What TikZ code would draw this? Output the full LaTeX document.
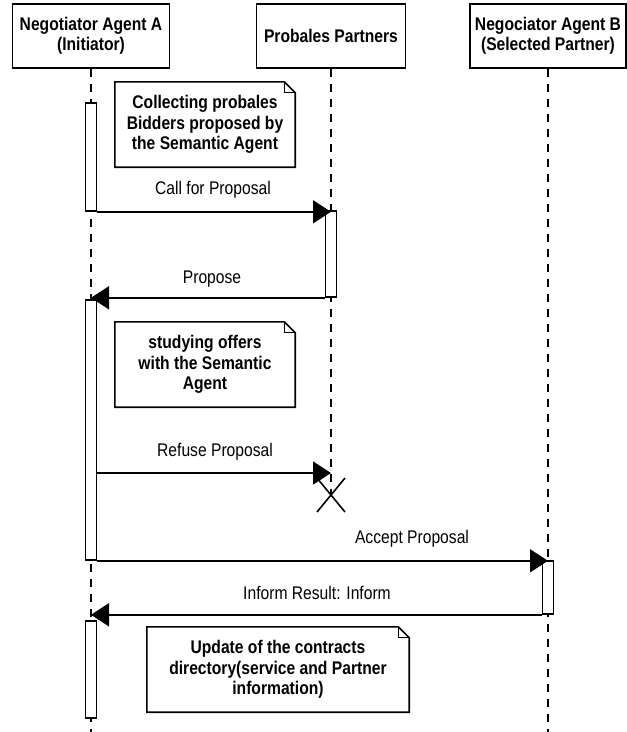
\documentclass[tikz,border=0pt]{standalone}
\usepackage{fontspec}
\setmainfont{Liberation Sans}[FakeStretch=0.855]
\usetikzlibrary{arrows.meta}
\begin{document}
\begin{tikzpicture}[x=1pt,y=-1pt,
  head/.style={draw, line width=1.6pt, minimum height=64pt, align=center,
    inner sep=0pt, font=\bfseries\fontsize{18.3}{20}\selectfont},
  life/.style={line width=1.5pt, dash pattern=on 8pt off 7pt},
  bar/.style={draw, fill=white, line width=1.6pt, minimum width=11pt, inner sep=0pt},
  msg/.style={line width=1.6pt, -{Triangle[length=18pt,width=23pt]}},
  lab/.style={font=\fontsize{18.3}{20}\selectfont, inner sep=0pt},
  notebox/.style={align=center, inner sep=0pt,
    font=\bfseries\fontsize{18.3}{20.5}\selectfont},
  noteline/.style={line width=1.6pt, line join=miter}]
\useasboundingbox (0,0) rectangle (627,732);

% object headers
\node[head, minimum width=157pt] (ha) at (91,36) {Negotiator Agent A\\(Initiator)};
\node[head, minimum width=149pt] (hp) at (331,36) {Probales Partners};
\node[head, minimum width=156pt] (hb) at (548,36) {Negociator Agent B\\(Selected Partner)};

% lifelines
\coordinate (ea) at (91,732);
\coordinate (eb) at (548,732);
\coordinate (xp) at (331,495);
\draw[life] (ha.south) -- (ea);
\draw[life] (hp.south) -- (xp);
\draw[life] (hb.south) -- (eb);

% activation bars
\node[bar, minimum height=108pt] (a1) at (91,157) {};
\node[bar, minimum height=86pt]  (pb) at (331,254) {};
\node[bar, minimum height=260pt] (a2) at (91,430) {};
\node[bar, minimum height=53pt]  (bb) at (548,587.5) {};
\node[bar, minimum height=97pt]  (a3) at (91,669.5) {};

% messages
\coordinate (rf) at (0,473);
\draw[msg] (a1.south east) -- (a1.south east -| hp.south);
\draw[msg] (pb.south west) -- (pb.south west -| ha.south);
\draw[msg] (a2.east |- rf) -- (hp.south |- rf);
\draw[msg] (a2.south east) -- (a2.south east -| hb.south);
\draw[msg] (bb.south west) -- (bb.south west -| ha.south);

% message labels
\node[lab] (l1) at (213,190) {Call for Proposal};
\node[lab] (l2) at (212,279) {Propose};
\node[lab] (l3) at (215,452) {Refuse Proposal};
\node[lab] (l4) at (412,539) {Accept Proposal};
\node[lab] (l5) at (317,593) {Inform Result: Inform};

% destruction of the partners' lifeline
\draw[line width=1.6pt] ([shift={(-14,-17)}]xp) -- ([shift={(14,17)}]xp)
                        ([shift={(14,-17)}]xp) -- ([shift={(-14,17)}]xp);

% notes with folded corner
\node[notebox, minimum width=180pt, minimum height=85pt] (n1) at (205,124.5)
  {Collecting probales\\Bidders proposed by\\the Semantic Agent};
\node[notebox, minimum width=180pt, minimum height=85pt] (n2) at (205,364.5)
  {studying offers\\with the Semantic\\Agent};
\node[notebox, minimum width=262pt, minimum height=85pt] (n3) at (278,669.5)
  {Update of the contracts\\directory(service and Partner\\information)};
\foreach \n in {n1,n2,n3}{
  \draw[noteline] (\n.north west) -- ([xshift=-11pt]\n.north east)
    -- ([yshift=-11pt]\n.north east) -- (\n.south east) -- (\n.south west) -- cycle;
  \draw[line width=1.2pt] ([xshift=-11pt]\n.north east) -- ([xshift=-11pt,yshift=-11pt]\n.north east)
    -- ([yshift=-11pt]\n.north east);
}
\end{tikzpicture}
\end{document}
